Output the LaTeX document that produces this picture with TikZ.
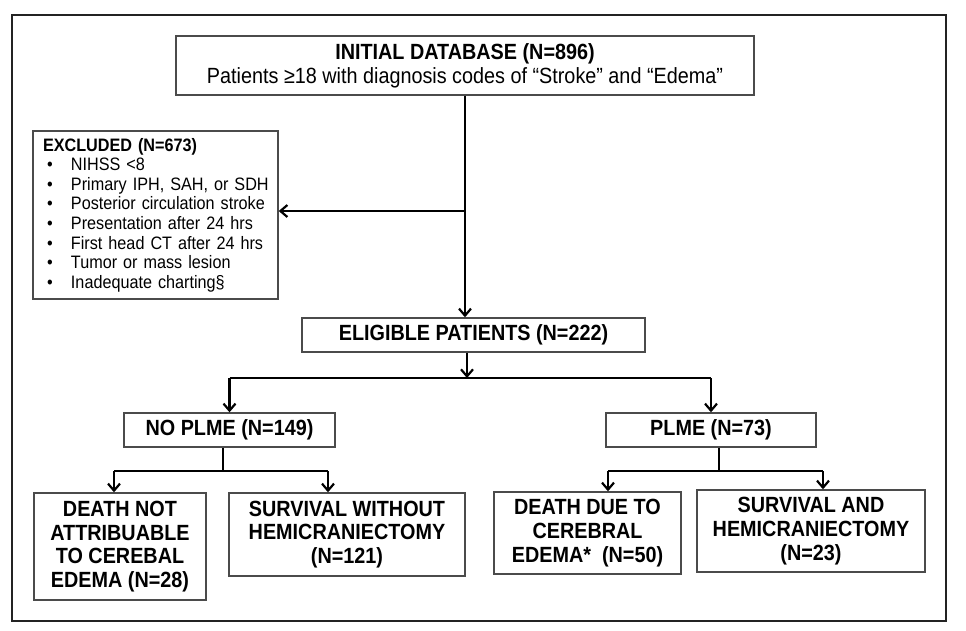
\documentclass[tikz,border=0pt]{standalone}
\usepackage{fontspec}
\setmainfont[FakeStretch=0.9]{Liberation Sans}
\usetikzlibrary{arrows.meta}
\definecolor{boxgray}{RGB}{75,75,75}
\definecolor{framegray}{RGB}{35,35,35}
\newcommand{\itm}[1]{\mbox{\makebox[28pt][l]{\hspace{4pt}\textbullet}#1}}
\begin{document}
\begin{tikzpicture}[x=1pt,y=-1pt,
  box/.style={draw=boxgray, line width=1.4pt, rectangle, inner sep=0pt, align=center,
    font=\fontsize{22}{23.8}\selectfont\bfseries},
  conn/.style={line width=2.2pt, draw=black},
  arr/.style={conn, -{Straight Barb[length=7pt,width=12pt]}}]
\useasboundingbox[fill=white] (0,0) rectangle (966,630);
\draw[line width=2.5pt, draw=framegray] (12,15) rectangle (946,621);

\node[box, minimum width=578pt, minimum height=59pt] (init) at (465,65.5)
  {INITIAL DATABASE (N=896)\\\mdseries Patients ≥18 with diagnosis codes of “Stroke” and “Edema”};
\node[box, minimum width=245pt, minimum height=168pt, text width=225pt, align=left,
  font=\fontsize{18}{19.6}\selectfont] (excl) at (155.5,215)
  {\mbox{\textbf{EXCLUDED (N=673)}}\\
   \itm{NIHSS <8}\\
   \itm{Primary IPH, SAH, or SDH}\\
   \itm{Posterior circulation stroke}\\
   \itm{Presentation after 24 hrs}\\
   \itm{First head CT after 24 hrs}\\
   \itm{Tumor or mass lesion}\\
   \itm{Inadequate charting§}};
\node[box, minimum width=343pt, minimum height=34pt] (elig) at (473.5,335) {ELIGIBLE PATIENTS (N=222)};
\node[box, minimum width=211pt, minimum height=34pt] (nopl) at (229.5,430) {NO PLME (N=149)};
\node[box, minimum width=210pt, minimum height=34pt] (plme) at (711,430) {PLME (N=73)};
\node[box, minimum width=172pt, minimum height=107pt] (dna) at (120,546.5)
  {DEATH NOT\\ATTRIBUABLE\\TO CEREBAL\\EDEMA (N=28)};
\node[box, minimum width=236pt, minimum height=83pt] (swh) at (347,534.5)
  {SURVIVAL WITHOUT\\HEMICRANIECTOMY\\(N=121)};
\node[box, minimum width=187pt, minimum height=82pt] (ddc) at (587.5,533)
  {DEATH DUE TO\\CEREBRAL\\EDEMA*\ \ (N=50)};
\node[box, minimum width=228pt, minimum height=82pt] (sah) at (811,531)
  {SURVIVAL AND\\HEMICRANIECTOMY\\(N=23)};

% connectors
\coordinate (a1) at (465,211);
\draw[arr] (init.south) -- (init.south |- elig.north);
\draw[arr] (a1) -- (a1 -| excl.east);

\coordinate (b1) at (467,378);
\coordinate (b2) at (229.5,378);
\coordinate (b3) at (711,378);
\draw[arr] (b1 |- elig.south) -- (b1);
\draw[conn] (b2) -- (b3);
\draw[arr] (b2) -- (nopl.north);
\draw[arr] (b3) -- (plme.north);

\coordinate (c1) at (223,471);
\coordinate (c2) at (114,471);
\coordinate (c3) at (328,471);
\draw[conn] (c1 |- nopl.south) -- (c1);
\draw[conn] (c2) -- (c3);
\draw[arr] (c2) -- (c2 |- dna.north);
\draw[arr] (c3) -- (c3 |- swh.north);

\coordinate (d1) at (719,471);
\coordinate (d2) at (608,471);
\coordinate (d3) at (823,471);
\draw[conn] (d1 |- plme.south) -- (d1);
\draw[conn] (d2) -- (d3);
\draw[arr] (d2) -- (d2 |- ddc.north);
\draw[arr] (d3) -- (d3 |- sah.north);
\end{tikzpicture}
\end{document}
